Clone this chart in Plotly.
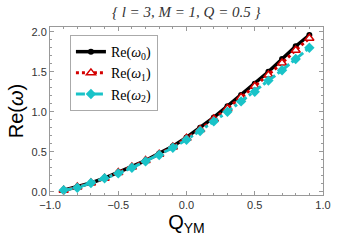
import plotly.graph_objects as go

q_ym = [-0.9, -0.8, -0.7, -0.6, -0.5, -0.4, -0.3, -0.2, -0.1, 0.0,
        0.1, 0.2, 0.3, 0.4, 0.5, 0.6, 0.7, 0.8, 0.9]
re_w0 = [0.02, 0.06, 0.11, 0.17, 0.24, 0.31, 0.39, 0.48, 0.57, 0.68,
         0.80, 0.93, 1.07, 1.21, 1.35, 1.50, 1.66, 1.82, 1.96]
re_w1 = [0.02, 0.06, 0.11, 0.17, 0.24, 0.31, 0.39, 0.47, 0.56, 0.67,
         0.78, 0.91, 1.04, 1.18, 1.32, 1.46, 1.61, 1.77, 1.92]
re_w2 = [0.02, 0.05, 0.11, 0.17, 0.23, 0.30, 0.38, 0.46, 0.55, 0.65,
         0.76, 0.88, 1.00, 1.13, 1.25, 1.39, 1.52, 1.66, 1.80]

names = ["Re(<i>ω</i><sub>0</sub>)", "Re(<i>ω</i><sub>1</sub>)", "Re(<i>ω</i><sub>2</sub>)"]

fig = go.Figure()
fig.add_trace(go.Scatter(x=q_ym, y=re_w0, name=names[0], mode="lines+markers",
                         line=dict(color="black", width=3.5),
                         marker=dict(symbol="circle", size=6, color="black")))
fig.add_trace(go.Scatter(x=q_ym, y=re_w1, name=names[1], mode="lines+markers",
                         line=dict(color="#d40000", width=3, dash="dot"),
                         marker=dict(symbol="triangle-up", size=8, color="white",
                                     line=dict(color="#d40000", width=1.5))))
fig.add_trace(go.Scatter(x=q_ym, y=re_w2, name=names[2], mode="lines+markers",
                         line=dict(color="#19c3c8", width=3, dash="dashdot"),
                         marker=dict(symbol="diamond", size=8, color="#19c3c8")))

axis_common = dict(
    showgrid=False, zeroline=False, showline=True, linecolor="#999999", linewidth=1,
    mirror="allticks", ticks="inside", ticklen=4, tickcolor="#999999",
    tickfont=dict(family="Liberation Sans, Arial, sans-serif", size=11, color="#333333"),
    tickformat=".1f", automargin=False,
)

fig.update_layout(
    width=343, height=243,
    margin=dict(l=50, r=20, t=27, b=48),
    paper_bgcolor="white", plot_bgcolor="white",
    title=dict(text="<i>{ l = 3, M = 1, Q = 0.5 }</i>",
               font=dict(family="Liberation Serif, Times New Roman, serif", size=15, color="#333333"),
               x=0.543, xanchor="center", y=0.95, yanchor="middle"),
    xaxis=dict(range=[-1.0, 1.0], dtick=0.5, tick0=-1.0,
               minor=dict(dtick=0.1, ticks="inside", ticklen=2, tickcolor="#999999"),
               title=dict(text="Q<sub>YM</sub>", standoff=3,
                          font=dict(family="Liberation Sans, Arial, sans-serif", size=20, color="black")),
               **axis_common),
    yaxis=dict(range=[-0.04, 2.06], dtick=0.5, tick0=0.0,
               minor=dict(dtick=0.1, ticks="inside", ticklen=2, tickcolor="#999999"),
               title=dict(text="Re(<i>ω</i>)", standoff=2,
                          font=dict(family="Liberation Sans, Arial, sans-serif", size=20, color="black")),
               **axis_common),
    legend=dict(x=0.073, y=0.952, xanchor="left", yanchor="top",
                bgcolor="white", bordercolor="#aaaaaa", borderwidth=1,
                font=dict(family="Liberation Serif, Times New Roman, serif", size=14, color="black"),
                tracegroupgap=0),
    showlegend=True,
)

fig.write_html("out.html", config={"displayModeBar": False},
               post_script="document.body.style.margin='0';")
